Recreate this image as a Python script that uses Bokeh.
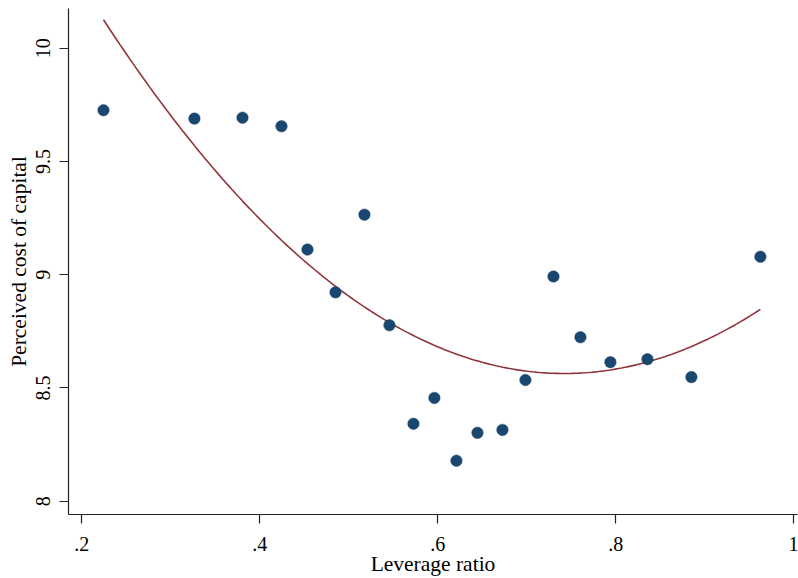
import numpy as np
from bokeh.plotting import figure
from bokeh.models import Range1d, FixedTicker, CustomJSTickFormatter, ColumnDataSource
from bokeh.embed import file_html
from bokeh.resources import INLINE

# ---- data ----
leverage_ratio = [0.2244, 0.3266, 0.3806, 0.4244, 0.4536, 0.4851, 0.5176, 0.5457,
                  0.5727, 0.5962, 0.6210, 0.6446, 0.6727, 0.6985, 0.7300, 0.7603,
                  0.7940, 0.8356, 0.8850, 0.9625]
cost_of_capital = [9.726, 9.689, 9.693, 9.655, 9.111, 8.922, 9.265, 8.777,
                   8.342, 8.456, 8.179, 8.302, 8.315, 8.535, 8.992, 8.724,
                   8.614, 8.627, 8.548, 9.079]
# quadratic fit line: y = a*x^2 + b*x + c
fit_coef = [5.826, -8.647, 11.7725]

x_ticks = [0.2, 0.4, 0.6, 0.8, 1.0]
x_tick_labels = [".2", ".4", ".6", ".8", "1"]
y_ticks = [8.0, 8.5, 9.0, 9.5, 10.0]
y_tick_labels = ["8", "8.5", "9", "9.5", "10"]

NAVY = "#1a476f"
MAROON = "#90353b"
AXIS = "#222222"
FONT = "Liberation Serif"

p = figure(width=798, height=578, output_backend="svg", toolbar_location=None,
           x_range=Range1d(0.1851, 1.0042), y_range=Range1d(7.9415, 10.175),
           min_border_left=68, min_border_right=1, min_border_top=8, min_border_bottom=62)
p.outline_line_color = None
p.grid.visible = False
p.background_fill_color = "white"
p.border_fill_color = "white"

fx = np.linspace(min(leverage_ratio), max(leverage_ratio), 200)
fy = np.polyval(fit_coef, fx)
p.line(fx, fy, line_color=MAROON, line_width=1.6)

src = ColumnDataSource(dict(x=leverage_ratio, y=cost_of_capital))
p.scatter("x", "y", source=src, size=11.5, fill_color=NAVY, line_color=NAVY, line_width=0.5)

fmt_code = """
let best = 0; let d = 1e9;
for (let i = 0; i < tvals.length; i++) {
  const dd = Math.abs(tvals[i] - tick);
  if (dd < d) { d = dd; best = i; }
}
return tlabels[best];
"""
p.xaxis.ticker = FixedTicker(ticks=x_ticks)
p.xaxis.formatter = CustomJSTickFormatter(args=dict(tvals=x_ticks, tlabels=x_tick_labels), code=fmt_code)
p.yaxis.ticker = FixedTicker(ticks=y_ticks)
p.yaxis.formatter = CustomJSTickFormatter(args=dict(tvals=y_ticks, tlabels=y_tick_labels), code=fmt_code)

p.xaxis.axis_label = "Leverage ratio"
p.yaxis.axis_label = "Perceived cost of capital"
p.yaxis.major_label_orientation = "vertical"

for ax in (p.xaxis[0], p.yaxis[0]):
    ax.axis_line_color = AXIS
    ax.axis_line_width = 1.2
    ax.major_tick_line_color = AXIS
    ax.major_tick_line_width = 1.2
    ax.major_tick_out = 9
    ax.major_tick_in = 0
    ax.minor_tick_line_color = None
    ax.major_label_text_font = FONT
    ax.major_label_text_font_size = "20px"
    ax.major_label_text_color = "black"
    ax.axis_label_text_font = FONT
    ax.axis_label_text_font_size = "21.5px"
    ax.axis_label_text_font_style = "normal"
    ax.axis_label_text_color = "black"

p.xaxis.major_label_standoff = 13
p.xaxis.axis_label_standoff = -2
p.yaxis.major_label_standoff = 9
p.yaxis.axis_label_standoff = 3

open("out.html", "w").write(file_html(p, INLINE))
